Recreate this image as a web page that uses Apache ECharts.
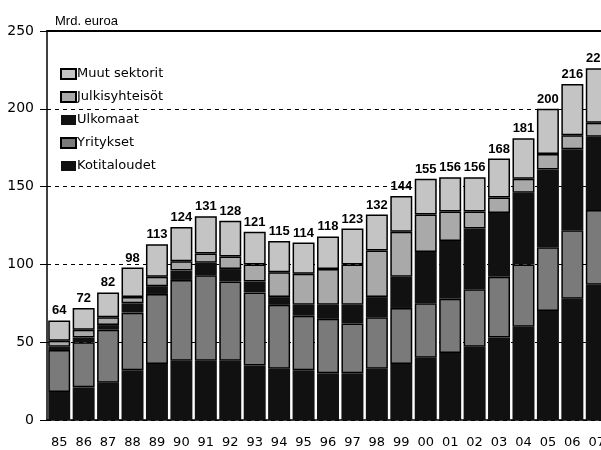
<!DOCTYPE html>
<html>
<head>
<meta charset="utf-8">
<script src="https://cdn.jsdelivr.net/npm/echarts@6/dist/echarts.min.js"></script>
<style>
  html, body { margin: 0; padding: 0; background: #fff; overflow: hidden; }
  /* a little wider than the window so the last bar gets cut at the edge */
  #chart { width: 620px; height: 450px; }
</style>
</head>
<body>
<div id="chart"></div>
<script>
const years = ["85", "86", "87", "88", "89", "90", "91", "92", "93", "94", "95", "96",
  "97", "98", "99", "00", "01", "02", "03", "04", "05", "06", "07"];

// Mrd. euroa, bottom to top
const kotitaloudet = [18, 21, 24, 32, 36, 38, 38, 38, 35, 33, 32, 30, 30, 33, 36, 40, 43, 47, 53, 60, 70, 78, 87];
const yritykset = [27, 29, 34, 37, 45, 52, 55, 51, 47, 41, 35, 35, 32, 33, 36, 35, 35, 37, 39, 40, 41, 44, 48];
const ulkomaat = [2, 3, 3, 6, 5, 6, 8, 8, 7, 5, 7, 9, 12, 13, 20, 33, 37, 39, 41, 46, 50, 52, 47];
const julkisyhteisot = [4, 5, 5, 4, 6, 6, 6, 8, 11, 16, 20, 23, 26, 30, 29, 24, 19, 11, 10, 9, 10, 9, 9];
const muutSektorit = [13, 14, 16, 19, 21, 22, 24, 23, 21, 20, 20, 21, 23, 23, 23, 23, 22, 22, 25, 26, 29, 33, 35];
const totals = [64, 72, 82, 98, 113, 124, 131, 128, 121, 115, 114, 118, 123, 132, 144, 155, 156, 156, 168, 181, 200, 216, 226];

const font = "'DejaVu Sans', sans-serif";
const labelFont = "'Liberation Sans', Arial, sans-serif";

const chart = echarts.init(document.getElementById("chart"));

const makeSeries = (name, data, color, border) => ({
  name: name,
  type: "bar",
  stack: "total",
  data: data,
  barCategoryGap: "10%",
  itemStyle: {
    color: color,
    borderColor: "#000",
    borderWidth: border,
  },
  emphasis: { disabled: true },
});

const muut = makeSeries("Muut sektorit", muutSektorit, "#c4c4c4", 1.5);
muut.label = {
  show: true,
  position: "top",
  distance: 3,
  color: "#000",
  fontFamily: labelFont,
  fontSize: 13,
  fontWeight: "bold",
  formatter: (p) => totals[p.dataIndex],
};

const option = {
  animation: false,
  backgroundColor: "#fff",
  title: {
    text: "Mrd. euroa",
    left: 50,
    top: 10,
    textStyle: {
      color: "#000",
      fontFamily: labelFont,
      fontSize: 13,
      fontWeight: "normal",
    },
  },
  legend: {
    orient: "vertical",
    left: 55,
    top: 62,
    itemWidth: 15,
    itemHeight: 10,
    itemGap: 9,
    icon: "rect",
    data: ["Muut sektorit", "Julkisyhteisöt", "Ulkomaat", "Yritykset", "Kotitaloudet"],
    textStyle: {
      color: "#000",
      fontFamily: font,
      fontSize: 13,
      lineHeight: 14,
      padding: [0, 0, 0, -4],
    },
  },
  grid: {
    left: 47,
    right: 11,
    top: 31,
    bottom: 30,
    containLabel: false,
  },
  xAxis: [
    {
      type: "category",
      data: years,
      position: "bottom",
      axisLine: { lineStyle: { color: "#000", width: 1.5 } },
      axisTick: { alignWithLabel: true, length: 5, lineStyle: { color: "#000" } },
      axisLabel: { color: "#000", fontFamily: font, fontSize: 13, margin: 16 },
    },
    {
      type: "category",
      data: years,
      position: "top",
      axisLine: { lineStyle: { color: "#000", width: 2 } },
      axisTick: { show: false },
      axisLabel: { show: false },
    },
  ],
  yAxis: {
    type: "value",
    min: 0,
    max: 250,
    interval: 50,
    axisLine: { show: true, lineStyle: { color: "#000", width: 1.5 } },
    axisTick: { show: true, length: 7, lineStyle: { color: "#000" } },
    axisLabel: { color: "#000", fontFamily: font, fontSize: 14, margin: 13 },
    splitLine: {
      lineStyle: { color: "#000", type: [4, 4], width: 1 },
    },
  },
  series: [
    makeSeries("Kotitaloudet", kotitaloudet, "#111", 0),
    makeSeries("Yritykset", yritykset, "#7a7a7a", 1.5),
    makeSeries("Ulkomaat", ulkomaat, "#111", 0),
    makeSeries("Julkisyhteisöt", julkisyhteisot, "#a9a9a9", 1.5),
    muut,
  ],
};

chart.setOption(option);
</script>
</body>
</html>
